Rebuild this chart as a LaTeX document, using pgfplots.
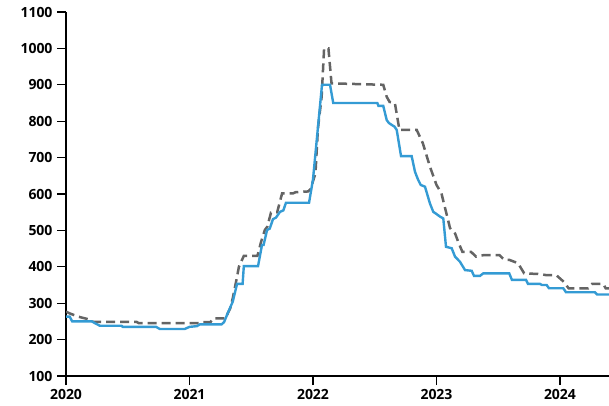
\documentclass[border=0pt]{standalone}
\usepackage{fontspec}
\setmainfont{Open Sans}
\usepackage{pgfplots}
\pgfplotsset{compat=1.18}
\definecolor{lineblue}{RGB}{52,155,212}
\definecolor{linegray}{RGB}{100,100,100}
\begin{document}
\begin{tikzpicture}
\useasboundingbox (-66pt,-29pt) rectangle (543pt,376pt);
\begin{axis}[
at={(0,0)}, anchor=south west,
scale only axis,
width=543pt, height=364pt,
xmin=2020, xmax=2024.397,
ymin=100, ymax=1100,
xtick={2020,2021,2022,2023,2024},
ytick={100,200,...,1100},
axis x line*=bottom, axis y line*=left,
axis line style={line width=1.3pt},
tick style={black, line width=1.3pt},
major tick length=9pt,
tick align=outside,
/pgf/number format/1000 sep={},
/pgf/number format/assume math mode=true,
ticklabel style={font=\fontsize{14}{16}\selectfont\bfseries},
yticklabel style={xshift=-1pt},
xticklabel style={yshift=-1pt},
clip=true,
]
\addplot [linegray, line width=2.5pt, dash pattern=on 9pt off 5pt] coordinates {
(2020.00,277) (2020.03,272) (2020.10,263) (2020.18,256) (2020.22,249)
(2020.57,249) (2020.59,245) (2021.085,245) (2021.10,248) (2021.17,248)
(2021.19,258) (2021.29,258) (2021.33,286) (2021.35,313) (2021.38,364)
(2021.40,400) (2021.44,430) (2021.55,430) (2021.58,469) (2021.61,501)
(2021.63,510) (2021.66,549) (2021.71,550) (2021.75,602) (2021.84,602)
(2021.86,605) (2021.96,607) (2021.98,613) (2022.02,657) (2022.04,780)
(2022.07,867) (2022.09,1000) (2022.125,1000) (2022.15,904) (2022.569,900)
(2022.597,867) (2022.62,853) (2022.663,850) (2022.70,776) (2022.84,776)
(2022.89,739) (2022.947,675) (2023.00,625) (2023.04,602) (2023.08,547)
(2023.11,506) (2023.15,492) (2023.18,465) (2023.21,441) (2023.28,441)
(2023.32,428) (2023.38,432) (2023.51,432) (2023.55,419) (2023.59,419)
(2023.66,410) (2023.71,382) (2023.84,380) (2023.89,377) (2023.97,377)
(2024.03,359) (2024.07,341) (2024.23,341) (2024.26,353) (2024.35,353)
(2024.37,341) (2024.40,341)
};
\addplot [lineblue, line width=2.4pt] coordinates {
(2020.00,263) (2020.03,263) (2020.05,250) (2020.21,250) (2020.24,244)
(2020.275,238) (2020.45,238) (2020.46,235) (2020.73,235) (2020.76,229)
(2020.96,229) (2021.00,235) (2021.06,237) (2021.085,242) (2021.26,242)
(2021.28,248) (2021.31,273) (2021.35,304) (2021.385,353) (2021.43,353)
(2021.44,402) (2021.555,402) (2021.587,460) (2021.60,460) (2021.628,501)
(2021.65,505) (2021.676,531) (2021.70,535) (2021.733,551) (2021.76,555)
(2021.781,576) (2021.968,576) (2021.99,620) (2022.00,640) (2022.073,900)
(2022.138,900) (2022.164,850) (2022.521,850) (2022.53,842) (2022.569,842)
(2022.597,803) (2022.615,795) (2022.637,790) (2022.66,785) (2022.678,776)
(2022.713,704) (2022.799,704) (2022.826,661) (2022.85,640) (2022.872,625)
(2022.907,620) (2022.947,574) (2022.974,551) (2023.00,545) (2023.028,538)
(2023.055,533) (2023.077,455) (2023.123,451) (2023.150,428) (2023.19,414)
(2023.231,391) (2023.285,389) (2023.304,375) (2023.352,375) (2023.379,382)
(2023.589,382) (2023.611,364) (2023.725,364) (2023.741,353) (2023.838,353)
(2023.854,350) (2023.892,350) (2023.911,341) (2024.027,341) (2024.049,330)
(2024.283,330) (2024.30,324) (2024.40,324)
};
\end{axis}
\end{tikzpicture}
\end{document}
